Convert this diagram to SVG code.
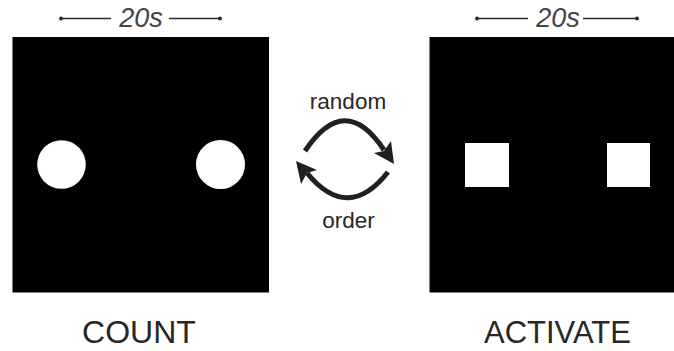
<svg xmlns="http://www.w3.org/2000/svg" width="674" height="351" viewBox="0 0 674 351">
  <style>
    .panel { fill: #000; }
    .shape { fill: #fff; }
    .label { font-family: "Liberation Sans", Arial, sans-serif; fill: #2a2627; text-anchor: middle; }
    .dur { font-family: "Liberation Sans", Arial, sans-serif; font-style: italic; font-size: 27px; fill: #444; text-anchor: middle; }
    .bar { stroke: #2a2a2a; stroke-width: 1.3; fill: none; }
    .dot { fill: #2a2a2a; }
    .arc { stroke: #231f20; stroke-width: 5; fill: none; stroke-linecap: butt; }
    .head { fill: #231f20; }
  </style>

  <rect width="674" height="351" fill="#fff"/>

  <!-- COUNT panel: two circles -->
  <g id="count">
    <line class="bar" x1="61" y1="18.5" x2="111" y2="18.5"/>
    <line class="bar" x1="169" y1="18.5" x2="220" y2="18.5"/>
    <circle class="dot" cx="61" cy="18.5" r="2"/>
    <circle class="dot" cx="220" cy="18.5" r="2"/>
    <text class="dur" x="141" y="27">20s</text>
    <rect class="panel" x="12.5" y="37" width="256.5" height="255.5"/>
    <circle class="shape" cx="61.5" cy="164.5" r="24.3"/>
    <circle class="shape" cx="220.5" cy="164.5" r="24.5"/>
    <text class="label" x="139" y="343" font-size="32">COUNT</text>
  </g>

  <!-- ACTIVATE panel: two squares -->
  <g id="activate">
    <line class="bar" x1="477" y1="18.5" x2="528" y2="18.5"/>
    <line class="bar" x1="583" y1="18.5" x2="637" y2="18.5"/>
    <circle class="dot" cx="477" cy="18.5" r="2"/>
    <circle class="dot" cx="637" cy="18.5" r="2"/>
    <text class="dur" x="558" y="27">20s</text>
    <rect class="panel" x="429.5" y="37" width="244.5" height="255.5"/>
    <rect class="shape" x="465" y="143" width="44" height="44"/>
    <rect class="shape" x="607" y="143" width="43" height="44"/>
    <text class="label" x="557.5" y="343" font-size="31">ACTIVATE</text>
  </g>

  <!-- cycle between the two conditions -->
  <g id="connectors">
    <path class="arc" d="M305,151 Q345,91 384,150"/>
    <polygon class="head" points="394,164 374,153 384,151 391,141"/>
    <path class="arc" d="M388,172 Q348,223 307,173"/>
    <polygon class="head" points="296,161 317,170 307,173 301,184"/>
    <text class="label" x="348" y="109" font-size="22.5">random</text>
    <text class="label" x="348.5" y="228" font-size="22.5">order</text>
  </g>
</svg>
